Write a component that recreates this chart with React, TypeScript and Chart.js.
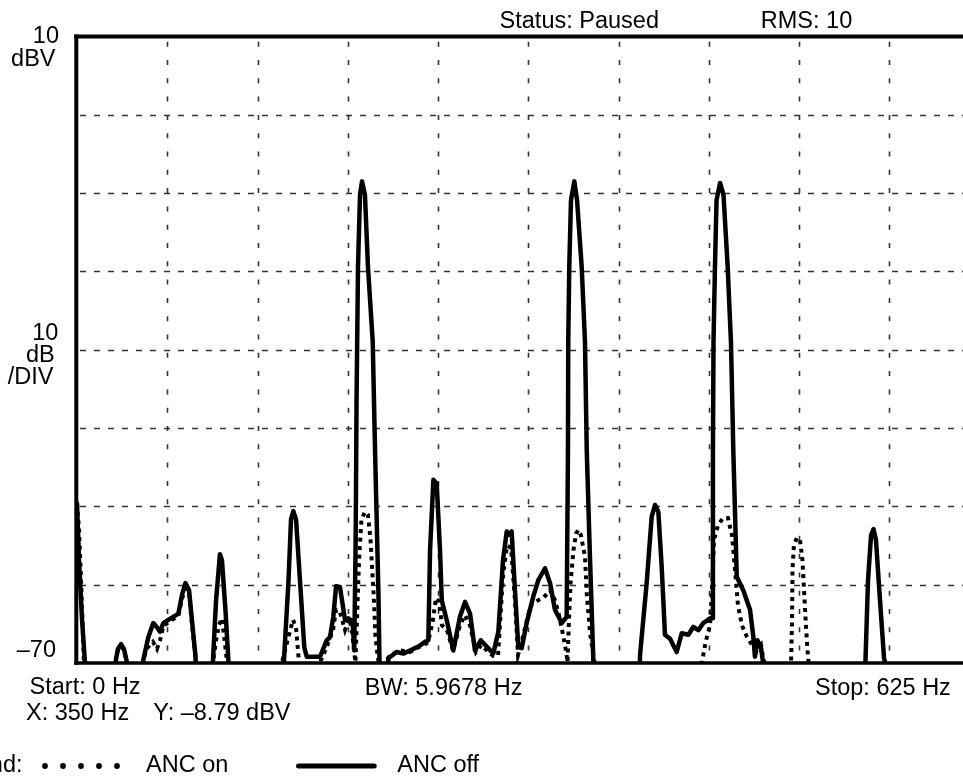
import React, { useEffect, useRef } from 'react';
import { Chart, registerables } from 'chart.js';

Chart.register(...registerables);

// ---- axis ticks (Hz / dBV) ----
const xTicks = [0, 62.5, 125, 187.5, 250, 312.5, 375, 437.5, 500, 562.5, 625];
const yTicks = [-70, -60, -50, -40, -30, -20, -10, 0, 10];

// ---- series: ANC off (solid) ----
const offFreq = [
  0, 1.4, 3.5, 5.5, 6.2, 26.3, 27.0, 28.4, 30.5, 32.5, 34.6, 35.3,
  45.2, 45.9, 49.4, 52.8, 55.2, 57.5, 59.8, 63.2, 66.7, 70.2, 72.7, 75.1, 77.6, 79.6, 82.1, 82.8,
  93.5, 94.2, 96.3, 99.0, 100.4, 102.8, 104.9, 105.6,
  142.7, 143.4, 146.5, 148.2, 149.8, 151.7, 154.4, 157.4, 159.1, 163.4, 168.3, 172.9, 175.2, 177.5,
  179.4, 182.1, 185.6, 187.9, 190.9, 192.0, 193.0, 193.6, 194.6, 196.0, 197.4, 199.4, 201.5, 204.8,
  206.4, 208.7, 209.5, 210.2,
  214.9, 215.6, 221.4, 226.0, 230.6, 236.4, 241.0, 243.3, 244.5, 246.8, 249.1, 251.4, 252.6, 256.0,
  260.6, 265.2, 268.7, 272.2, 275.6, 279.6, 283.7, 288.3, 291.8, 295.0, 297.6, 299.2, 301.0, 303.3,
  305.6, 308.0, 311.4, 316.0, 319.5, 324.1, 327.6, 331.0, 335.7, 339.1, 340.0, 340.2, 340.9, 342.1,
  344.4, 346.3, 349.5, 351.8, 353.0, 355.3, 357.5, 358.2,
  389.2, 389.9, 394.5, 398.0, 400.3, 402.6, 404.9, 407.2, 410.7, 415.3, 418.8, 423.4, 426.8, 430.3,
  433.7, 438.4, 439.8, 440.4, 440.8, 441.8, 442.9, 445.3, 447.7, 450.6, 452.9, 454.5, 456.9, 461.4,
  466.1, 468.4, 469.5, 471.2, 473.7, 475.1, 475.8,
  545.3, 546.0, 547.8, 549.9, 551.6, 553.3, 556.1, 558.9, 559.6, 560.3, 625,
];
const offLevel = [
  -49.6, -56.9, -64.5, -69.9, -80, -80, -69.5, -68.2, -67.6, -68.2, -69.9, -80,
  -80, -69.6, -66.7, -64.9, -65.4, -66.0, -64.9, -64.5, -64.1, -63.7, -61.3, -59.8, -60.7, -64.5, -69.2, -80,
  -80, -69.5, -62.0, -56.1, -56.9, -63.2, -69.9, -80,
  -80, -69.4, -59.4, -51.7, -50.6, -51.7, -59.4, -68.0, -69.2, -69.2, -69.2, -67.1, -66.7, -64.1,
  -60.2, -60.3, -64.5, -64.3, -64.7, -68.4, -53.9, -36.4, -19.4, -10.2, -8.5, -10.2, -19.4, -29.0,
  -42.8, -60.7, -69.9, -80,
  -80, -69.4, -68.6, -68.8, -68.4, -67.9, -67.3, -67.1, -55.6, -46.6, -47.1, -55.6, -62.0, -64.5,
  -68.4, -64.1, -62.2, -63.7, -68.4, -67.1, -67.9, -68.8, -66.0, -56.9, -53.2, -53.6, -53.2, -60.7,
  -67.9, -68.1, -64.9, -61.5, -59.4, -57.9, -59.8, -63.2, -64.9, -64.1, -42.8, -29.0, -19.4, -10.9,
  -8.5, -10.9, -19.4, -29.0, -42.8, -56.9, -69.2, -80,
  -80, -69.0, -59.8, -51.3, -49.8, -50.7, -57.7, -66.4, -66.9, -68.6, -66.2, -66.4, -65.4, -65.8,
  -64.9, -64.3, -64.3, -42.8, -29.0, -19.4, -10.9, -8.7, -10.2, -19.4, -29.1, -42.8, -59.0, -60.7,
  -63.2, -66.7, -69.2, -67.1, -68.1, -69.9, -80,
  -80, -69.9, -59.4, -53.7, -52.9, -54.3, -62.0, -69.4, -69.9, -80, -80,
];

// ---- series: ANC on (dotted) ----
const onFreq = [
  0, 1.4, 2.8, 4.8, 5.5, 26.3, 27.0, 28.4, 30.5, 32.5, 34.6, 35.3,
  45.0, 45.7, 48.1, 50.6, 52.6, 55.4, 57.5, 59.8, 63.2, 66.7, 70.2, 72.7, 75.1, 77.6, 79.6, 82.1, 82.8,
  93.5, 94.2, 96.3, 98.3, 100.2, 101.8, 103.9, 104.6,
  141.3, 142.0, 144.0, 146.8, 149.6, 151.7, 153.7, 154.4,
  167.6, 168.3, 172.4, 177.3, 179.4, 182.1, 185.6, 188.4, 190.4, 191.8, 192.8, 193.9, 195.3, 197.0,
  199.4, 201.5, 203.3, 204.3, 205.3, 206.7, 208.4, 209.1, 209.8,
  212.6, 213.3, 216.8, 223.7, 230.6, 237.5, 243.1, 246.5, 248.6, 250.7, 252.8, 256.2, 260.4, 265.2,
  268.7, 272.2, 276.3, 279.8, 284.0, 288.1, 291.6, 295.0, 297.8, 300.6, 303.3, 305.4, 308.2, 311.6,
  314.4, 319.3, 323.4, 327.6, 331.0, 333.8, 336.6, 338.6, 339.7, 340.7, 341.8, 343.8, 345.6, 347.2,
  349.0, 351.8, 353.0, 355.3, 357.5, 358.4, 359.1,
  432.1, 432.8, 435.6, 438.4, 440.1, 441.1, 443.9, 447.4, 450.8, 453.6, 455.7, 457.7, 460.5, 464.0,
  467.5, 470.9, 473.7, 475.4, 476.1, 476.8,
  493.8, 494.5, 495.2, 495.5, 496.5, 498.6, 500.7, 502.4, 503.5, 504.8, 505.9, 506.6, 507.3, 625,
];
const onLevel = [
  -49.6, -53.0, -59.4, -69.9, -80, -80, -69.5, -68.2, -67.8, -68.4, -69.9, -80,
  -80, -69.9, -68.2, -67.7, -67.3, -68.2, -67.1, -65.3, -64.8, -64.4, -64.0, -61.8, -60.5, -61.2, -65.0, -69.4, -80,
  -80, -69.9, -67.1, -65.2, -64.3, -66.4, -69.9, -80,
  -80, -69.9, -68.4, -66.4, -64.5, -65.5, -69.9, -80,
  -80, -69.9, -68.2, -65.8, -63.2, -63.5, -65.8, -64.3, -65.8, -68.4, -69.9, -64.5, -56.9, -51.7,
  -50.7, -51.1, -54.3, -57.7, -60.7, -66.6, -69.4, -69.9, -80,
  -80, -69.9, -69.0, -68.4, -68.6, -67.9, -67.4, -64.5, -61.7, -62.2, -65.2, -65.8, -68.4, -65.2,
  -63.9, -65.2, -68.6, -67.7, -68.4, -69.1, -69.0, -58.8, -55.0, -55.3, -62.0, -69.0, -67.1, -64.5,
  -62.6, -62.0, -61.6, -60.7, -62.0, -63.9, -66.4, -68.4, -69.9, -64.5, -59.8, -55.6, -53.5, -53.0,
  -53.7, -56.4, -61.1, -66.2, -68.8, -69.9, -80,
  -80, -69.9, -67.1, -65.2, -59.4, -54.3, -52.4, -51.5, -51.5, -53.7, -58.1, -62.6, -65.2, -66.7,
  -67.7, -68.4, -67.7, -69.6, -69.9, -80,
  -80, -69.9, -64.5, -58.1, -54.9, -54.0, -54.3, -56.9, -60.7, -65.2, -68.4, -69.9, -80, -80,
];

// ---- texts ----
const statusText = 'Status: Paused';
const rmsText = 'RMS: 10';
const topLabels = ['10', 'dBV'];
const midLabels = ['10', 'dB', '/DIV'];
const bottomLabel = '\u201370';
const startText = 'Start: 0 Hz';
const bwText = 'BW: 5.9678 Hz';
const stopText = 'Stop: 625 Hz';
const cursorXText = 'X: 350 Hz';
const cursorYText = 'Y: \u20138.79 dBV';
const legendTitle = 'Legend:';
const seriesNames = ['ANC on', 'ANC off'];

const FONT = '23.5px "Liberation Sans", Arial, Helvetica, sans-serif';
const CANVAS_W = 1000;
const CANVAS_H = 776;

const decorPlugin = {
  id: 'decor',
  beforeDatasetsDraw(chart: any) {
    const { ctx, chartArea, scales } = chart;
    const { left, right, top, bottom } = chartArea;
    const xs = scales.x;
    const ys = scales.y;
    ctx.save();
    ctx.strokeStyle = '#333';
    ctx.lineWidth = 1.6;
    // vertical grid lines
    ctx.setLineDash([5, 13.3]);
    ctx.lineDashOffset = 13.1;
    xTicks.slice(1, -1).forEach((v) => {
      const px = Math.round(xs.getPixelForValue(v)) + 0.5;
      ctx.beginPath();
      ctx.moveTo(px, top);
      ctx.lineTo(px, bottom);
      ctx.stroke();
    });
    // horizontal grid lines
    ctx.setLineDash([6, 8]);
    ctx.lineDashOffset = -3;
    yTicks.slice(1, -1).forEach((v) => {
      const py = Math.round(ys.getPixelForValue(v)) + 0.5;
      ctx.beginPath();
      ctx.moveTo(left, py);
      ctx.lineTo(right, py);
      ctx.stroke();
    });
    ctx.restore();
  },
  afterDatasetsDraw(chart: any) {
    const { ctx, chartArea } = chart;
    const { left, right, top, bottom } = chartArea;
    ctx.save();
    ctx.strokeStyle = '#000';
    ctx.setLineDash([]);
    ctx.lineCap = 'butt';
    ctx.lineWidth = 4;
    ctx.beginPath();
    ctx.moveTo(left - 0.7, top - 2);
    ctx.lineTo(left - 0.7, bottom + 1.8);
    ctx.stroke();
    ctx.beginPath();
    ctx.moveTo(left - 2.7, top);
    ctx.lineTo(right, top);
    ctx.stroke();
    ctx.lineWidth = 3.6;
    ctx.beginPath();
    ctx.moveTo(left - 2.7, bottom);
    ctx.lineTo(right, bottom);
    ctx.stroke();
    ctx.beginPath();
    ctx.moveTo(right, top);
    ctx.lineTo(right, bottom);
    ctx.stroke();
    ctx.restore();
  },
  afterDraw(chart: any) {
    const { ctx } = chart;
    ctx.save();
    ctx.fillStyle = '#000';
    ctx.font = FONT;
    ctx.textBaseline = 'alphabetic';

    ctx.textAlign = 'left';
    ctx.fillText(statusText, 499.6, 28.3);
    ctx.fillText(rmsText, 760.8, 28.3);

    ctx.textAlign = 'right';
    ctx.fillText(topLabels[0], 59, 43.3);
    ctx.fillText(topLabels[1], 55.5, 65.7);
    ctx.fillText(midLabels[0], 58.3, 339.5);
    ctx.fillText(midLabels[1], 54.7, 361.5);
    ctx.fillText(midLabels[2], 53.5, 383.5);
    ctx.fillText(bottomLabel, 56, 656.7);

    ctx.textAlign = 'left';
    ctx.fillText(startText, 29.6, 694);
    ctx.fillText(bwText, 364.8, 694.5);
    ctx.fillText(stopText, 815, 694.5);
    ctx.fillText(cursorXText, 26, 720);
    ctx.fillText(cursorYText, 153.3, 720);

    // legend
    const ly = 771.7;
    ctx.textAlign = 'right';
    ctx.fillText(legendTitle, 22.5, ly);
    ctx.textAlign = 'left';
    ctx.fillText(seriesNames[0], 146, ly);
    ctx.fillText(seriesNames[1], 397.3, ly);
    for (let i = 0; i < 5; i++) {
      ctx.beginPath();
      ctx.arc(45 + i * 18, 766, 2.9, 0, Math.PI * 2);
      ctx.fill();
    }
    ctx.strokeStyle = '#000';
    ctx.lineWidth = 5;
    ctx.lineCap = 'round';
    ctx.beginPath();
    ctx.moveTo(298.5, 766);
    ctx.lineTo(374.2, 766);
    ctx.stroke();
    ctx.restore();
  },
};

export default function App() {
  const canvasRef = useRef<HTMLCanvasElement | null>(null);

  useEffect(() => {
    const canvas = canvasRef.current;
    if (!canvas) return;
    const onData = onFreq.map((x, i) => ({ x, y: onLevel[i] }));
    const offData = offFreq.map((x, i) => ({ x, y: offLevel[i] }));
    const chart = new Chart(canvas, {
      type: 'line',
      data: {
        datasets: [
          {
            label: seriesNames[0],
            data: onData,
            borderColor: '#000',
            backgroundColor: '#000',
            borderWidth: 4,
            borderDash: [4, 4.5],
            borderCapStyle: 'butt',
            pointRadius: 0,
            tension: 0,
            fill: false,
            order: 0,
            clip: 0,
          },
          {
            label: seriesNames[1],
            data: offData,
            borderColor: '#000',
            backgroundColor: '#000',
            borderWidth: 4.5,
            borderJoinStyle: 'round',
            borderCapStyle: 'round',
            pointRadius: 0,
            tension: 0,
            fill: false,
            order: 1,
            clip: 0,
          },
        ],
      },
      options: {
        responsive: false,
        animation: false,
        devicePixelRatio: 1,
        events: [],
        layout: { padding: { left: 77, right: CANVAS_W - 979.5, top: 36.5, bottom: CANVAS_H - 663 } },
        plugins: { legend: { display: false }, tooltip: { enabled: false } },
        scales: {
          x: { type: 'linear', min: xTicks[0], max: xTicks[xTicks.length - 1], display: false },
          y: { type: 'linear', min: yTicks[0], max: yTicks[yTicks.length - 1], display: false },
        },
      },
      plugins: [decorPlugin],
    } as any);
    return () => chart.destroy();
  }, []);

  return (
    <div
      style={{
        position: 'fixed',
        left: 0,
        top: 0,
        width: 963,
        height: 776,
        overflow: 'hidden',
        background: '#fff',
      }}
    >
      <canvas ref={canvasRef} width={CANVAS_W} height={CANVAS_H} style={{ width: CANVAS_W, height: CANVAS_H, display: 'block' }} />
    </div>
  );
}
